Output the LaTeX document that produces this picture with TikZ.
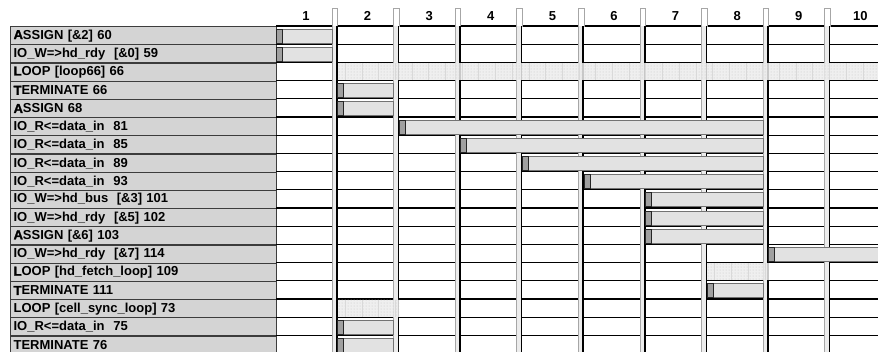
\documentclass[tikz,border=0pt]{standalone}
\usepackage{fontspec}
\setmainfont{Liberation Sans}
\newfontfamily\heavyfont[FakeBold=1.6]{Liberation Sans Bold}
\usetikzlibrary{patterns}
\definecolor{labelgray}{RGB}{212,212,212}
\definecolor{framegray}{RGB}{60,60,60}
\definecolor{bargray}{RGB}{226,226,226}
\definecolor{baredge}{RGB}{115,115,115}
\definecolor{handlegray}{RGB}{160,160,160}
\definecolor{sepgray}{RGB}{236,236,236}
\definecolor{loopgray}{RGB}{236,236,236}
\newcommand{\heavy}[1]{{\heavyfont #1}}

\begin{document}
\begin{tikzpicture}[x=1pt, y=-1pt,
  rowlabel/.style={draw=framegray, fill=labelgray, line width=1.2pt, anchor=north west,
    minimum width=266pt, minimum height=18.2pt, text width=260pt, inner xsep=3pt,
    inner ysep=0pt, align=left, font=\bfseries\fontsize{13}{14}\selectfont},
  colnum/.style={font=\bfseries\fontsize{13}{14}\selectfont},
  rowline/.style={black, line width=1.3pt},
  taskbar/.style={draw=baredge, fill=bargray, line width=0.8pt},
  taskhandle/.style={draw=black!85, fill=handlegray, line width=0.8pt},
  loopband/.style={fill=loopgray, fill opacity=0.85},
  loopdots/.style={pattern=dots, pattern color=gray!45}]

  \useasboundingbox (0,0) rectangle (878,351);

  \foreach \txt [count=\i from 0] in {
      \heavy{A}SSIGN [\&2] 60,
      IO\_W=>hd\_rdy\ \ [\&0] 59,
      \heavy{L}OOP [loop66] 66,
      \heavy{T}ERMINATE 66,
      \heavy{A}SSIGN 68,
      IO\_R<=data\_in\ \ 81,
      IO\_R<=data\_in\ \ 85,
      IO\_R<=data\_in\ \ 89,
      IO\_R<=data\_in\ \ 93,
      IO\_W=>hd\_bus\ \ [\&3] 101,
      IO\_W=>hd\_rdy\ \ [\&5] 102,
      \heavy{A}SSIGN [\&6] 103,
      IO\_W=>hd\_rdy\ \ [\&7] 114,
      \heavy{L}OOP [hd\_fetch\_loop] 109,
      \heavy{T}ERMINATE 111,
      LOOP [cell\_sync\_loop] 73,
      IO\_R<=data\_in\ \ 75,
      TERMINATE 76}{
    \pgfmathsetmacro{\rtop}{26+\i*18.2}
    \node[rowlabel] (lab\i) at (10,\rtop) {\txt};
    \draw[rowline] (276,\rtop) -- (878,\rtop);
  }

  % column separators and numbers
  \foreach \k in {1,...,9}{
    \pgfmathsetmacro{\sx}{332+(\k-1)*61.6}
    \draw[gray!70, fill=white, line width=0.8pt] (\sx,8) rectangle (\sx+5.5,26);
    \fill[sepgray] (\sx,26) rectangle (\sx+5.5,360);
    \draw[gray!70, line width=0.8pt] (\sx,26) -- (\sx,360);
    \draw[black, line width=1.5pt] (\sx+4.8,26) -- (\sx+4.8,360);
  }
  \foreach \k in {1,...,10}{
    \pgfmathsetmacro{\cx}{306+(\k-1)*61.6}
    \node[colnum] (col\k) at (\cx,16) {\k};
  }

  \foreach \r/\a/\b in {0/276/332, 1/276/332, 3/337.5/393.6, 4/337.5/393.6,
      5/399.1/763.2, 6/460.7/763.2, 7/522.3/763.2, 8/583.9/763.2,
      9/645.5/763.2, 10/645.5/763.2, 11/645.5/763.2, 12/768.7/890,
      14/707.1/763.2, 16/337.5/393.6, 17/337.5/393.6}{
    \pgfmathsetmacro{\rtop}{26+\r*18.2}
    \draw[taskbar] (\a,\rtop+3) rectangle (\b,\rtop+17);
    \draw[taskhandle] (\a,\rtop+3) rectangle (\a+6,\rtop+17);
  }

  \foreach \r/\a/\b in {2/337.5/890, 13/707.1/768.7, 15/337.5/399.1}{
    \pgfmathsetmacro{\rtop}{26+\r*18.2}
    \fill[loopband] (\a,\rtop+0.7) rectangle (\b,\rtop+17.5);
    \fill[loopdots] (\a,\rtop+0.7) rectangle (\b,\rtop+17.5);
    \foreach \lx in {7.5,24.2,...,560}{
      \pgfmathparse{\a+\lx<\b ? 1 : 0}
      \ifnum\pgfmathresult=1
        \draw[gray!30, line width=0.4pt] (\a+\lx,\rtop+0.7) -- (\a+\lx,\rtop+17.5);
      \fi
    }
  }
\end{tikzpicture}
\end{document}
